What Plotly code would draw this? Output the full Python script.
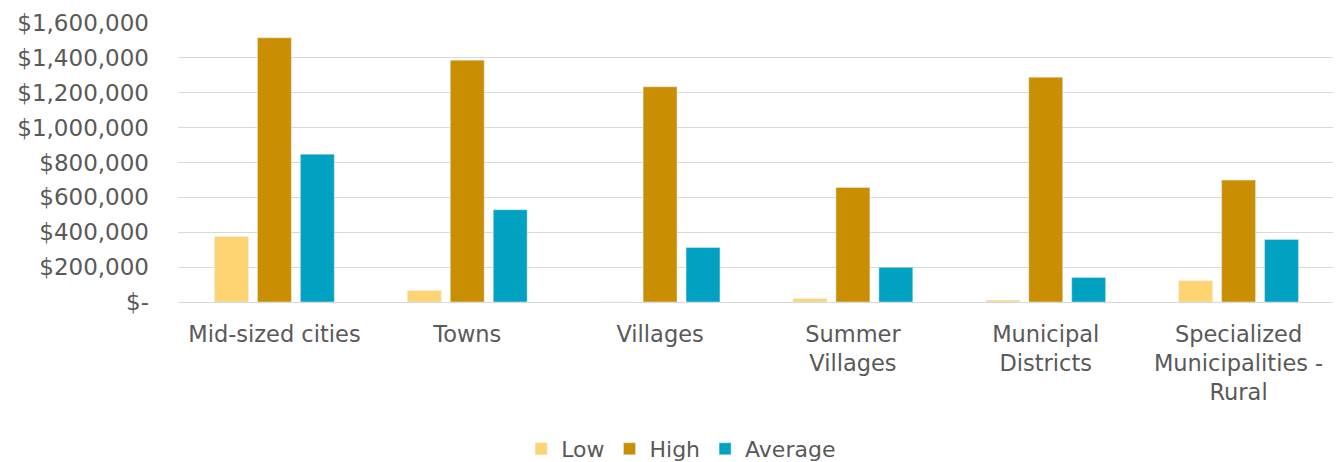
import plotly.graph_objects as go

categories = ["Mid-sized cities", "Towns", "Villages", "Summer<br>Villages",
              "Municipal<br>Districts", "Specialized<br>Municipalities -<br>Rural"]
low = [375000, 66000, 0, 19000, 10000, 122000]
high = [1515000, 1387000, 1234000, 657000, 1289000, 699000]
average = [848000, 529000, 313000, 199000, 141000, 359000]

tick_vals = [0, 200000, 400000, 600000, 800000, 1000000, 1200000, 1400000, 1600000]
tick_text = ["$-", "$200,000", "$400,000", "$600,000", "$800,000",
             "$1,000,000", "$1,200,000", "$1,400,000", "$1,600,000"]

font_family = "DejaVu Sans, sans-serif"
text_color = "#595959"

fig = go.Figure()
fig.add_trace(go.Bar(name="Low", x=categories, y=low, marker_color="#FED372"))
fig.add_trace(go.Bar(name="High", x=categories, y=high, marker_color="#C98E02"))
fig.add_trace(go.Bar(name="Average", x=categories, y=average, marker_color="#00A1C1"))

fig.update_layout(
    width=1333, height=454,
    barmode="group", bargap=0.332, bargroupgap=0.21,
    plot_bgcolor="white", paper_bgcolor="white",
    margin=dict(l=170, r=6, t=15, b=160, autoexpand=False),
    font=dict(family=font_family, size=22, color=text_color),
    showlegend=True,
    legend=dict(orientation="h", xref="container", x=0.505, xanchor="center",
                yref="paper", y=-0.527, yanchor="middle",
                font=dict(size=22, color=text_color), itemwidth=30,
                traceorder="normal"),
    xaxis=dict(showgrid=False, showline=False, ticks="", automargin=False,
               ticklabelstandoff=16, tickfont=dict(size=22.5)),
    yaxis=dict(range=[0, 1600000], tickvals=tick_vals, ticktext=tick_text,
               showgrid=True, gridcolor="#D9D9D9", gridwidth=1.3,
               zeroline=True, zerolinecolor="#D9D9D9", zerolinewidth=1.3,
               showline=False, ticks="", ticklabelstandoff=28, automargin=False,
               tickfont=dict(size=23)),
)

fig.write_html("out.html")
